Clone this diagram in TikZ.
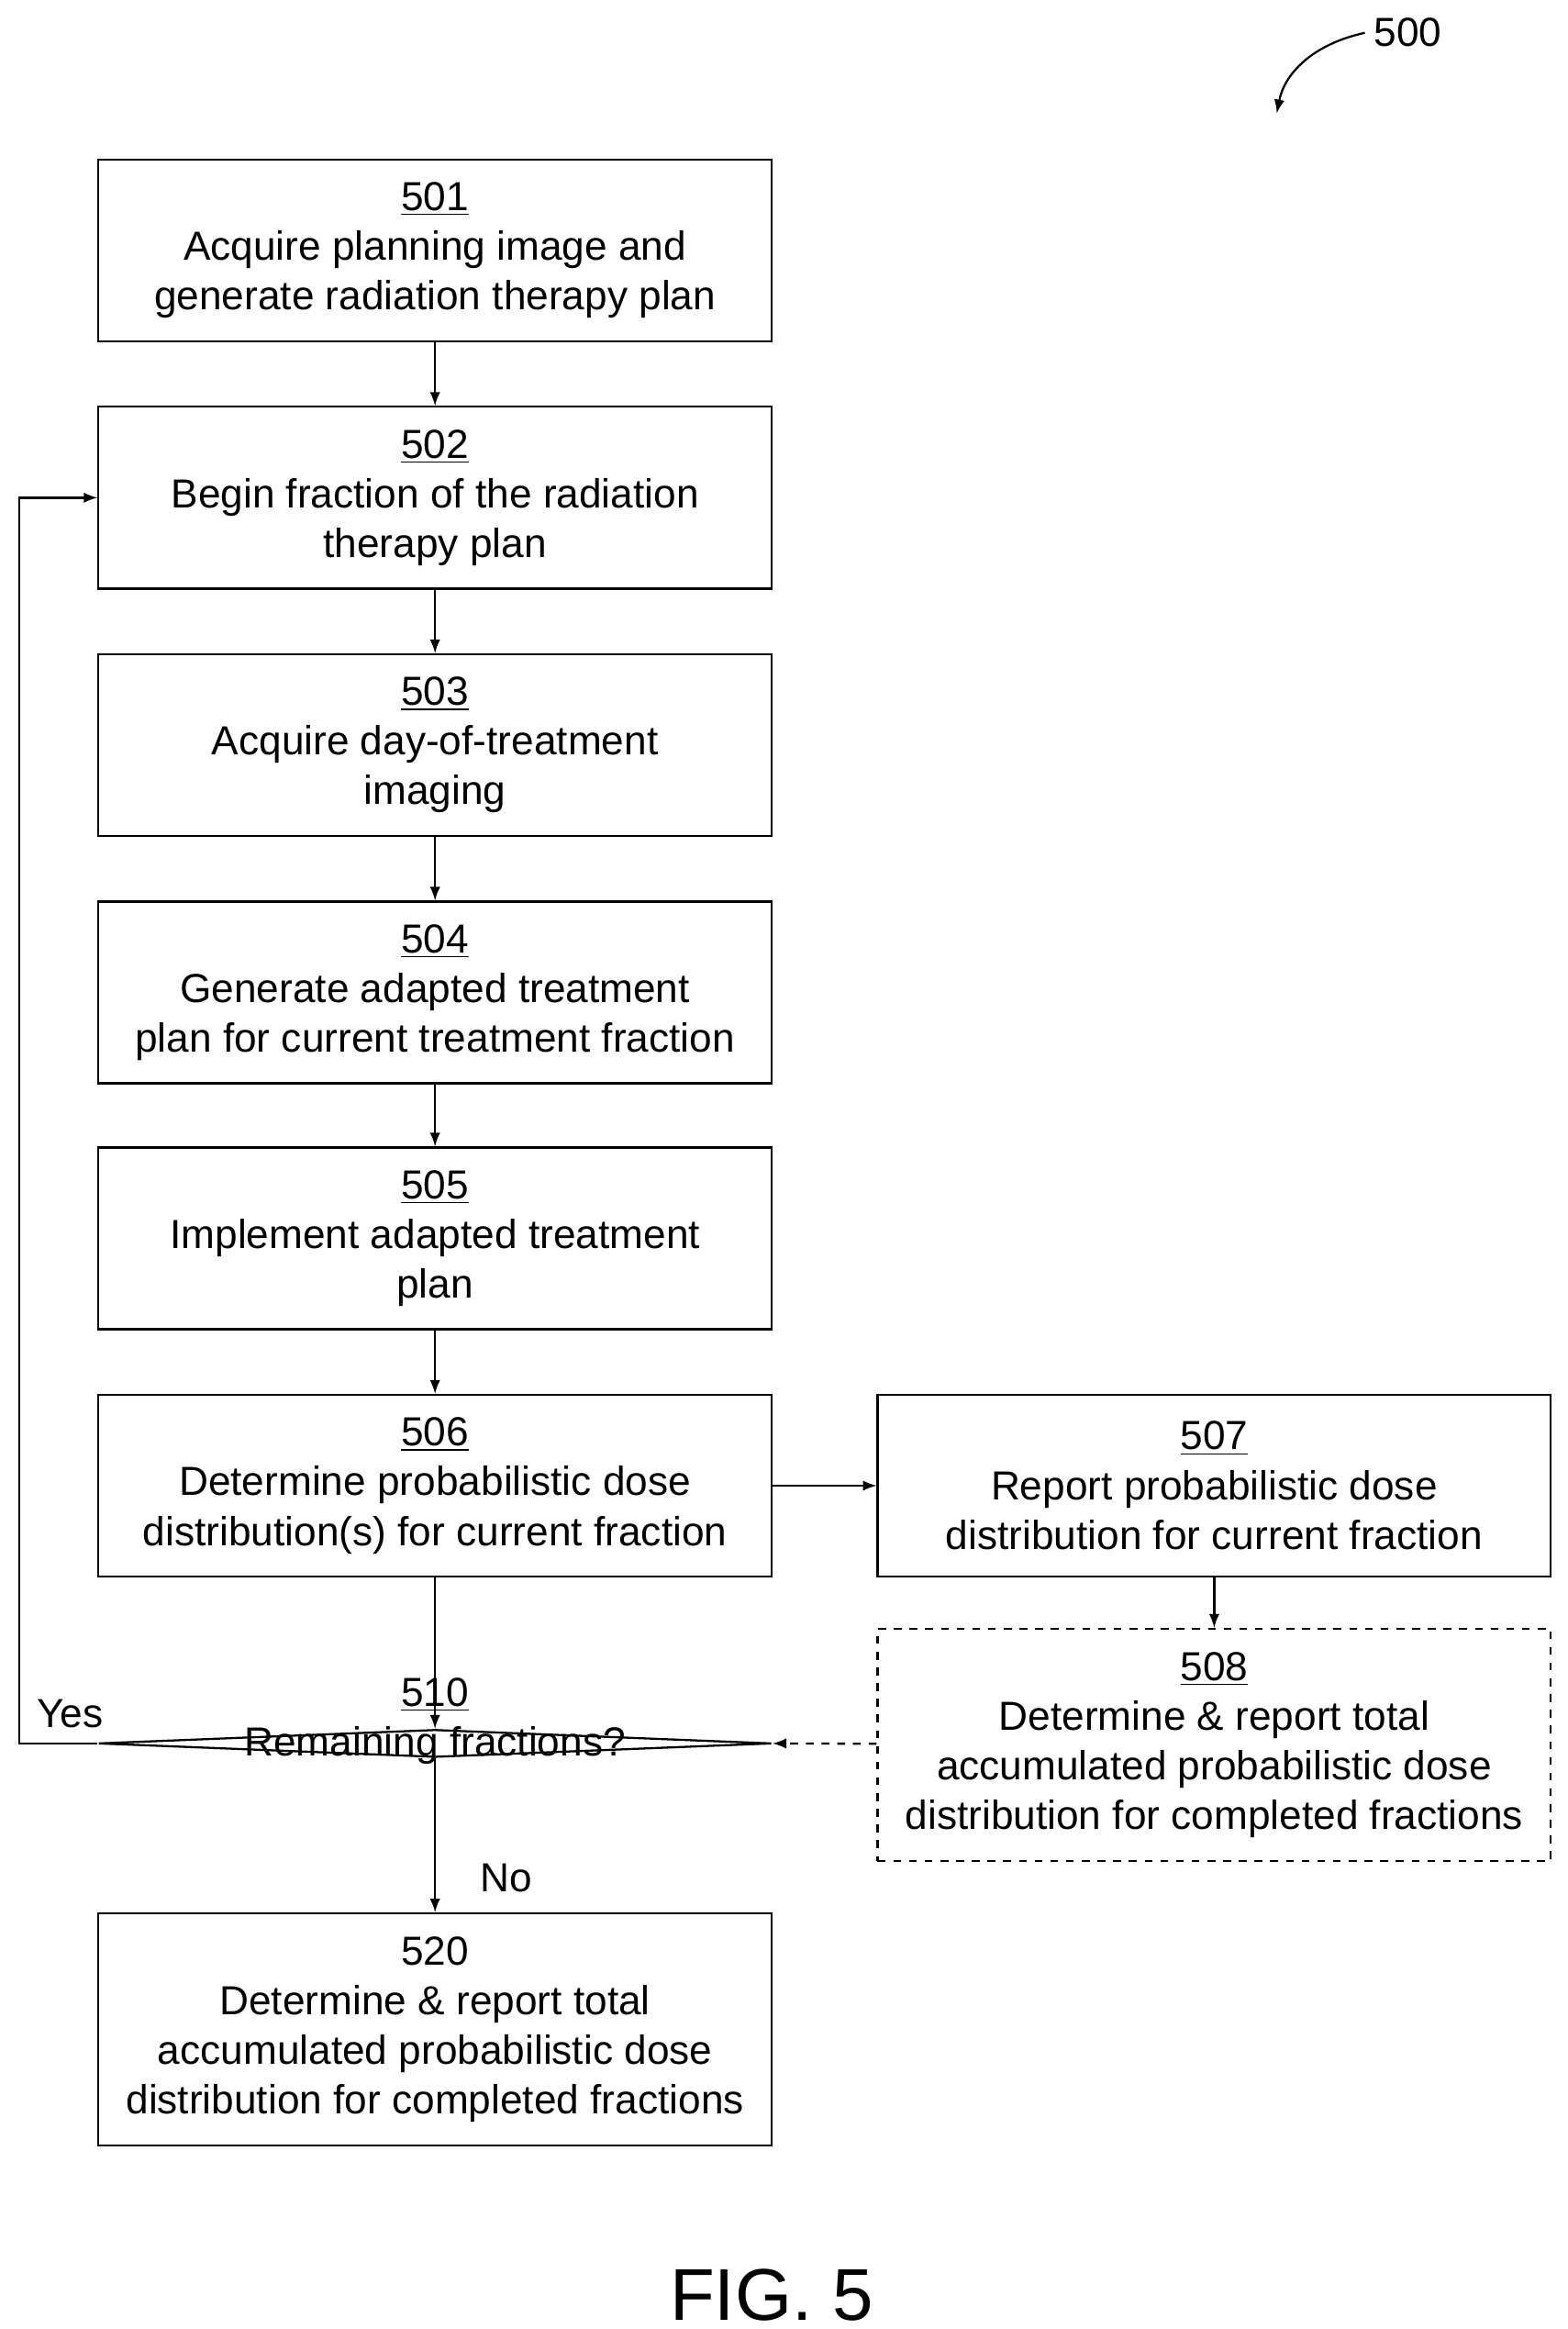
\documentclass[tikz,border=0pt]{standalone}
\usepackage{fontspec}
\setmainfont{Liberation Sans}
\usetikzlibrary{shapes,arrows,positioning,calc}

\begin{document}
\begin{tikzpicture}[x=0.02cm,y=-0.02cm,
    every node/.style={font=\fontsize{15.5}{19}\selectfont},
    box/.style={draw,thick,minimum width=9.04cm,minimum height=2.44cm,align=center,inner sep=2pt},
    flow/.style={->,thick,>=latex}]
    \useasboundingbox (0,0) rectangle (1052,1563);
    % main steps
    \node[box] (s501) at (292,168) {\underline{501}\\Acquire planning image and\\generate radiation therapy plan};
    \node[box] (s502) at (292,334) {\underline{502}\\Begin fraction of the radiation\\therapy plan};
    \node[box] (s503) at (292,500) {\underline{503}\\Acquire day-of-treatment\\imaging};
    \node[box] (s504) at (292,666) {\underline{504}\\Generate adapted treatment\\plan for current treatment fraction};
    \node[box] (s505) at (292,831) {\underline{505}\\Implement adapted treatment\\plan};
    \node[box] (s506) at (292,997) {\underline{506}\\Determine probabilistic dose\\distribution(s) for current fraction};
    \node[box] (s507) at (815,997) {\underline{507}\\Report probabilistic dose\\distribution for current fraction};
    \node[box,dashed,minimum height=3.12cm] (s508) at (815,1171) {\underline{508}\\Determine \& report total\\accumulated probabilistic dose\\distribution for completed fractions};
    % decision
    \node[diamond,draw,thick,aspect=3.27,minimum width=9.04cm,inner sep=0pt] (s510) at (292,1170) {\phantom{x}};
    \node[align=center] (t510) at (292,1155) {\underline{510}\\Remaining fractions?};
    \node[box,minimum height=3.12cm] (s520) at (292,1362) {520\\Determine \& report total\\accumulated probabilistic dose\\distribution for completed fractions};
    % connectors
    \foreach \a/\b in {s501/s502,s502/s503,s503/s504,s504/s505,s505/s506,s506/s510,s510/s520,s507/s508}
        \draw[flow] (\a) -- (\b);
    \draw[flow] (s506) -- (s507);
    \draw[flow,dashed] (s508) -- (s510.east);
    \coordinate (c1) at (13,1170);
    \coordinate (c2) at (13,334);
    \draw[flow] (s510.west) -- (c1) -- (c2) -- (s502.west);
    \node (yes) at (47,1150) {Yes};
    \node (no) at (340,1260) {No};
    % figure labels
    \node (ref) at (945,22) {500};
    \coordinate (tip) at (857,76);
    \draw[flow] (ref.west) .. controls (880,30) and (862,50) .. (tip);
    \node[font=\fontsize{28}{32}\selectfont] (fig) at (518,1540) {FIG. 5};
\end{tikzpicture}
\end{document}
